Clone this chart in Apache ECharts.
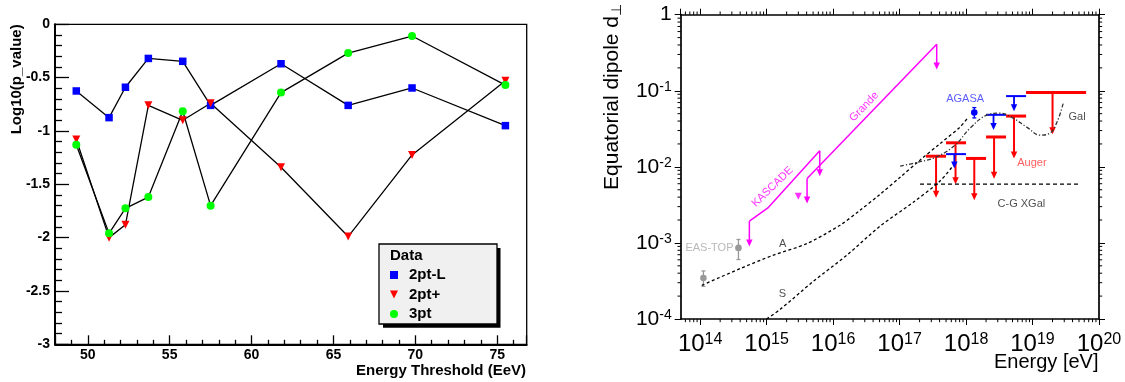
<!DOCTYPE html>
<html><head><meta charset="utf-8">
<script src="https://cdn.jsdelivr.net/npm/echarts@6/dist/echarts.min.js"></script>
<style>html,body{margin:0;padding:0;background:#fff}#c{width:1125px;height:382px}</style>
</head><body><div id="c"></div><script>
// ---------- Left panel data ----------
const energyThreshold = [49.3, 51.3, 52.3, 53.7, 55.8, 57.5, 61.8, 65.9, 69.8, 75.5];
const p2ptL    = [-0.625, -0.875, -0.59, -0.32, -0.347, -0.76, -0.37, -0.76, -0.597, -0.95];
const p2ptPlus = [-1.08, -2.0, -1.88, -0.76, -0.9, -0.74, -1.34, -1.99, -1.225, -0.53];
const p3pt     = [-1.13, -1.96, -1.725, -1.62, -0.815, -1.70, -0.64, -0.27, -0.11, -0.57];
const legendNames = ['2pt-L', '2pt+', '3pt'];

// ---------- Right panel data ----------
const easTopE  = [1.12e14, 3.77e14];
const easTopD  = [3.46e-4, 8.6e-4];
const easTopLo = [2.69e-4, 6.05e-4];
const easTopHi = [4.28e-4, 1.11e-3];

const kascadeE = [5.5e14, 1.06e15, 6.3e15];
const kascadeD = [1.93e-3, 2.92e-3, 0.01625];
const kascadeLimE   = [5.5e14, 6.3e15];
const kascadeLimTop = [1.93e-3, 0.01625];
const kascadeLimTip = [9.0e-4, 7.55e-3];
const kascadeExtraE = [3.0e15];
const kascadeExtraD = [4.1e-3];

const grandeE = [4.06e15, 3.62e17];
const grandeD = [7.04e-3, 0.408];
const grandeLimE   = [4.06e15, 3.62e17];
const grandeLimTop = [7.04e-3, 0.408];
const grandeLimTip = [3.3e-3, 0.191];

const augerLo  = [2.5e17, 5e17, 1e18, 2e18, 4e18, 8e18];
const augerHi  = [5e17, 1e18, 2e18, 4e18, 8e18, 6.4e19];
const augerE   = [3.54e17, 6.95e17, 1.33e18, 2.64e18, 5.27e18, 2.0e19];
const augerUL  = [0.0138, 0.0207, 0.0129, 0.0247, 0.0465, 0.0947];
const augerTip = [3.93e-3, 5.9e-3, 3.65e-3, 7.0e-3, 0.0129, 0.0269];

const agasaLo  = [5e17, 2e18, 4e18];
const agasaHi  = [1e18, 4e18, 8e18];
const agasaE   = [6.67e17, 2.59e18, 5.27e18];
const agasaUL  = [0.0147, 0.0483, 0.0851];
const agasaTip = [9.5e-3, 0.0304, 0.054];
const agasaPtE  = [1.33e18];
const agasaPtD  = [0.0517];
const agasaPtLo = [0.044];
const agasaPtHi = [0.0601];

const modelAE = [1.06e14, 4.0e14, 1.26e15, 4.03e15, 1.27e16, 2.55e16, 5.09e16, 1.02e17, 2.03e17, 4.06e17, 8.1e17, 1.04e18];
const modelAD = [2.77e-4, 4.6e-4, 6.9e-4, 9.8e-4, 1.71e-3, 2.69e-3, 4.36e-3, 7.3e-3, 0.01225, 0.0202, 0.0333, 0.043];
const modelSE = [1.0e15, 1.6e15, 5.06e15, 1.61e16, 5.09e16, 1.61e17, 4.06e17, 6.44e17];
const modelSD = [1.0e-4, 1.34e-4, 3.13e-4, 6.9e-4, 1.66e-3, 3.43e-3, 6.5e-3, 0.0105];
const galE = [1.02e17, 1.9e17, 3.54e17, 6.84e17, 1.15e18, 2.05e18, 3.24e18, 5.09e18, 8.18e18, 1.3e19, 1.83e19, 2.34e19, 2.9e19];
const galD = [0.0102, 0.01153, 0.01343, 0.0193, 0.0323, 0.0479, 0.0509, 0.0437, 0.0333, 0.0261, 0.0278, 0.0388, 0.0689];
const cgXGalE = [2.03e17, 5.2e19];
const cgXGalD = [5.92e-3, 5.92e-3];

const annotText = ['EAS-TOP', 'KASCADE', 'Grande', 'A', 'S', 'AGASA', 'Auger', 'Gal', 'C-G XGal'];
const annotE = [1.38e14, 1.23e15, 2.93e16, 1.75e15, 1.73e15, 9.7e17, 9.8e18, 4.67e19, 6.8e18];
const annotD = [8.6e-4, 5.46e-3, 0.0616, 9.8e-4, 2.11e-4, 0.0778, 0.0111, 0.0455, 3.3e-3];

// ---------- styling ----------
const FONT = '"Liberation Sans", Arial, Helvetica, sans-serif';
const MAG = '#ff00ff', RED = '#ff0000', BLUE = '#0000ff', GRAY = '#999999';
const annotStyle = [
  {color: '#a6a6a6', rotate: 0}, {color: MAG, rotate: 44}, {color: MAG, rotate: 46},
  {color: '#222', rotate: 0}, {color: '#222', rotate: 0}, {color: '#3333ff', rotate: 0},
  {color: '#ff3333', rotate: 0}, {color: '#222', rotate: 0}, {color: '#222', rotate: 0}
];

const zip = (a, b) => a.map((v, i) => [v, b[i]]);

function limitRenderer(color, barW, lineW) {
  return function (params, api) {
    const ec = api.value(0), ul = api.value(1), tip = api.value(2);
    const lo = api.value(3), hi = api.value(4);
    const top = api.coord([ec, ul]);
    const t = api.coord([ec, tip]);
    const hh = 7, hw = 3.2;
    const ch = [];
    if (isFinite(lo) && isFinite(hi) && lo > 0 && hi > 0) {
      const a = api.coord([lo, ul]), b = api.coord([hi, ul]);
      ch.push({type: 'line', shape: {x1: a[0], y1: a[1], x2: b[0], y2: b[1]}, style: {stroke: color, lineWidth: barW}});
    }
    ch.push({type: 'line', shape: {x1: top[0], y1: top[1], x2: t[0], y2: t[1] - hh + 1}, style: {stroke: color, lineWidth: lineW}});
    ch.push({type: 'polygon', shape: {points: [[t[0] - hw, t[1] - hh], [t[0] + hw, t[1] - hh], [t[0], t[1]]]}, style: {fill: color}});
    return {type: 'group', children: ch};
  };
}
function pointRenderer(color, r) {
  return function (params, api) {
    const p = api.coord([api.value(0), api.value(1)]);
    const lo = api.coord([api.value(0), api.value(2)]);
    const hi = api.coord([api.value(0), api.value(3)]);
    const st = {stroke: color, lineWidth: 1.3};
    return {type: 'group', children: [
      {type: 'line', shape: {x1: p[0], y1: lo[1], x2: p[0], y2: hi[1]}, style: st},
      {type: 'line', shape: {x1: p[0] - 2, y1: lo[1], x2: p[0] + 2, y2: lo[1]}, style: st},
      {type: 'line', shape: {x1: p[0] - 2, y1: hi[1], x2: p[0] + 2, y2: hi[1]}, style: st},
      {type: 'circle', shape: {cx: p[0], cy: p[1], r: r}, style: {fill: color}}
    ]};
  };
}
// minor tick positions of the log axes (decade sub-divisions 2..9)
const minorTickData = [];
for (let n = 13; n <= 19; n++) for (let k = 2; k <= 9; k++) {
  const v = k * Math.pow(10, n);
  if (v > 5.1e13 && v < 1e20) minorTickData.push([v, 1e-2, 0]);
}
for (let n = -4; n <= -1; n++) for (let k = 2; k <= 9; k++) {
  minorTickData.push([1e15, k * Math.pow(10, n), 1]);
}
function minorTickRenderer(params, api) {
  const cs = params.coordSys;
  const kind = api.value(2);
  const p = api.coord([api.value(0), api.value(1)]);
  const L = 3.2, st = {stroke: '#000', lineWidth: 1};
  if (kind === 0) {
    return {type: 'group', children: [
      {type: 'line', shape: {x1: p[0], y1: cs.y + cs.height, x2: p[0], y2: cs.y + cs.height + L}, style: st},
      {type: 'line', shape: {x1: p[0], y1: cs.y, x2: p[0], y2: cs.y - L}, style: st}
    ]};
  }
  return {type: 'group', children: [
    {type: 'line', shape: {x1: cs.x, y1: p[1], x2: cs.x - L, y2: p[1]}, style: st},
    {type: 'line', shape: {x1: cs.x + cs.width, y1: p[1], x2: cs.x + cs.width + L, y2: p[1]}, style: st}
  ]};
}
function powLabel(v) {
  const e = Math.round(Math.log10(v));
  if (e === 0) return '{m|1}';
  return '{m|10}{e|' + e + '}';
}

const boldTick = {color: '#000', fontFamily: FONT, fontWeight: 'bold', fontSize: 14};
const logAxisCommon = {
  type: 'log', logBase: 10, gridIndex: 1,
  axisLine: {show: true, onZero: false, lineStyle: {color: '#000', width: 1.7}},
  axisTick: {show: true, inside: false, length: 6, lineStyle: {color: '#000', width: 1}},
  splitLine: {show: false}, minorTick: {show: false}, minorSplitLine: {show: false}
};

const option = {
  animation: false,
  backgroundColor: '#fff',
  grid: [
    {left: 55, right: 598.3, top: 24.3, bottom: 37.7, show: true, borderColor: '#000', borderWidth: 1.3, backgroundColor: 'transparent', containLabel: false, outerBoundsMode: 'none'},
    {left: 680.7, right: 26, top: 14.7, bottom: 63, show: false, containLabel: false, outerBoundsMode: 'none'}
  ],
  xAxis: [
    {type: 'value', gridIndex: 0, min: 48, max: 76.8,
     axisLine: {show: true, onZero: false, lineStyle: {color: '#000', width: 2}},
     axisTick: {show: true, inside: true, length: 9, lineStyle: {color: '#000', width: 1.3}},
     minorTick: {show: true, splitNumber: 5, length: 4.5, lineStyle: {color: '#000', width: 1.3}},
     splitLine: {show: false},
     axisLabel: Object.assign({margin: 4, showMinLabel: false, showMaxLabel: false}, boldTick)},
    Object.assign({}, logAxisCommon, {min: 5.1e13, max: 1e20, position: 'bottom',
     axisLabel: {margin: 13, showMinLabel: false, formatter: powLabel,
       rich: {m: {fontSize: 24, fontFamily: FONT, color: '#000'}, e: {fontSize: 16, fontFamily: FONT, color: '#000', verticalAlign: 'top'}}}}),
    Object.assign({}, logAxisCommon, {min: 5.1e13, max: 1e20, position: 'top', axisLabel: {show: false}})
  ],
  yAxis: [
    {type: 'value', gridIndex: 0, min: -3, max: 0, interval: 0.5,
     axisLine: {show: true, onZero: false, lineStyle: {color: '#000', width: 2}},
     axisTick: {show: true, inside: true, length: 14, lineStyle: {color: '#000', width: 1.3}},
     minorTick: {show: true, splitNumber: 5, length: 7, lineStyle: {color: '#000', width: 1.3}},
     splitLine: {show: false},
     axisLabel: Object.assign({margin: 5}, boldTick)},
    Object.assign({}, logAxisCommon, {min: 1e-4, max: 1, position: 'left',
     axisLabel: {margin: 9, formatter: powLabel,
       rich: {m: {fontSize: 21, fontFamily: FONT, color: '#000'}, e: {fontSize: 14, fontFamily: FONT, color: '#000', verticalAlign: 'top'}}}}),
    Object.assign({}, logAxisCommon, {min: 1e-4, max: 1, position: 'right', axisLabel: {show: false}})
  ],
  legend: {
    show: true, z: 20, orient: 'vertical', left: 390, top: 267.5,
    itemWidth: 8, itemHeight: 8, itemGap: 4.5, selectedMode: false,
    backgroundColor: 'transparent', padding: 0,
    textStyle: {color: '#000', fontFamily: FONT, fontWeight: 'bold', fontSize: 15, lineHeight: 15, padding: [0, 0, 0, 6]},
    data: [
      {name: legendNames[0], icon: 'rect', itemStyle: {color: BLUE}},
      {name: legendNames[1], icon: 'path://M0,0 L10,0 L5,10 Z', itemStyle: {color: RED}},
      {name: legendNames[2], icon: 'circle', itemStyle: {color: '#00ff00'}}
    ]
  },
  graphic: [
    {type: 'rect', z: 10, shape: {x: 383, y: 248, width: 117.5, height: 79.7}, style: {fill: '#000'}},
    {type: 'rect', z: 11, shape: {x: 379, y: 244, width: 118, height: 80}, style: {fill: '#f0f0f0', stroke: '#000', lineWidth: 1.3}},
    {type: 'text', z: 12, x: 390, y: 255.5, style: {text: 'Data', font: 'bold 15px ' + FONT, fill: '#000', align: 'left', verticalAlign: 'middle'}},
    {type: 'text', z: 12, x: 17, y: 24.3, rotation: Math.PI / 2, style: {text: 'Log10(p_value)', font: 'bold 15px ' + FONT, fill: '#000', align: 'right', verticalAlign: 'middle'}},
    {type: 'text', z: 12, x: 526, y: 370.5, style: {text: 'Energy Threshold (EeV)', font: 'bold 15px ' + FONT, fill: '#000', align: 'right', verticalAlign: 'middle'}},
    {type: 'text', z: 12, x: 1098.5, y: 362, style: {text: 'Energy [eV]', font: '20px ' + FONT, fill: '#000', align: 'right', verticalAlign: 'middle'}},
    {type: 'text', z: 12, x: 612, y: 4, rotation: Math.PI / 2, style: {
      text: '{a|Equatorial dipole d}{b|⊥}', align: 'right', verticalAlign: 'middle',
      rich: {a: {fontSize: 21, fontFamily: FONT, fill: '#000', lineHeight: 24}, b: {fontSize: 14, fontFamily: FONT, fill: '#000', verticalAlign: 'bottom', lineHeight: 14}}}}
  ],
  series: [
    // ---- left panel ----
    {name: legendNames[0], type: 'line', xAxisIndex: 0, yAxisIndex: 0, data: zip(energyThreshold, p2ptL),
     symbol: 'rect', symbolSize: 7.5, itemStyle: {color: BLUE}, lineStyle: {color: '#000', width: 1.3}},
    {name: legendNames[1], type: 'line', xAxisIndex: 0, yAxisIndex: 0, data: zip(energyThreshold, p2ptPlus),
     symbol: 'triangle', symbolRotate: 180, symbolSize: 8, itemStyle: {color: RED}, lineStyle: {color: '#000', width: 1.3}},
    {name: legendNames[2], type: 'line', xAxisIndex: 0, yAxisIndex: 0, data: zip(energyThreshold, p3pt),
     symbol: 'circle', symbolSize: 8, itemStyle: {color: '#00ff00'}, lineStyle: {color: '#000', width: 1.3}},
    // ---- right panel ----
    {type: 'custom', xAxisIndex: 1, yAxisIndex: 1, renderItem: minorTickRenderer, data: minorTickData, silent: true, clip: false, encode: {x: 0, y: 1}},
    {type: 'line', xAxisIndex: 1, yAxisIndex: 1, data: zip(modelAE, modelAD), symbol: 'none', smooth: 0.3,
     lineStyle: {color: '#000', width: 1.3, type: [3, 2.5]}},
    {type: 'line', xAxisIndex: 1, yAxisIndex: 1, data: zip(modelSE, modelSD), symbol: 'none', smooth: 0.3,
     lineStyle: {color: '#000', width: 1.3, type: [3, 2.5]}},
    {type: 'line', xAxisIndex: 1, yAxisIndex: 1, data: zip(galE, galD), symbol: 'none', smooth: 0.4,
     lineStyle: {color: '#333', width: 1.3, type: [4, 2, 1.2, 2]}},
    {type: 'line', xAxisIndex: 1, yAxisIndex: 1, data: zip(cgXGalE, cgXGalD), symbol: 'none',
     lineStyle: {color: '#000', width: 1.3, type: [4, 3]}},
    {type: 'line', xAxisIndex: 1, yAxisIndex: 1, data: zip(kascadeE, kascadeD), symbol: 'none',
     lineStyle: {color: MAG, width: 1.5}},
    {type: 'line', xAxisIndex: 1, yAxisIndex: 1, data: zip(grandeE, grandeD), symbol: 'none',
     lineStyle: {color: MAG, width: 1.5}},
    {type: 'custom', xAxisIndex: 1, yAxisIndex: 1, renderItem: limitRenderer(MAG, 0, 1.5), encode: {x: 0, y: 1},
     data: kascadeLimE.map((e, i) => [e, kascadeLimTop[i], kascadeLimTip[i], 0, 0])},
    {type: 'custom', xAxisIndex: 1, yAxisIndex: 1, renderItem: limitRenderer(MAG, 0, 1.5), encode: {x: 0, y: 1},
     data: grandeLimE.map((e, i) => [e, grandeLimTop[i], grandeLimTip[i], 0, 0])},
    {type: 'scatter', xAxisIndex: 1, yAxisIndex: 1, data: zip(kascadeExtraE, kascadeExtraD),
     symbol: 'triangle', symbolRotate: 180, symbolSize: [7, 7], itemStyle: {color: MAG}},
    {type: 'custom', xAxisIndex: 1, yAxisIndex: 1, renderItem: limitRenderer(RED, 3, 2), encode: {x: 0, y: 1},
     data: augerE.map((e, i) => [e, augerUL[i], augerTip[i], augerLo[i], augerHi[i]])},
    {type: 'custom', xAxisIndex: 1, yAxisIndex: 1, renderItem: limitRenderer(BLUE, 2, 1.8), encode: {x: 0, y: 1},
     data: agasaE.map((e, i) => [e, agasaUL[i], agasaTip[i], agasaLo[i], agasaHi[i]])},
    {type: 'custom', xAxisIndex: 1, yAxisIndex: 1, renderItem: pointRenderer(GRAY, 3.3), encode: {x: 0, y: 1},
     data: easTopE.map((e, i) => [e, easTopD[i], easTopLo[i], easTopHi[i]])},
    {type: 'custom', xAxisIndex: 1, yAxisIndex: 1, renderItem: pointRenderer(BLUE, 3.3), encode: {x: 0, y: 1},
     data: agasaPtE.map((e, i) => [e, agasaPtD[i], agasaPtLo[i], agasaPtHi[i]])},
    {type: 'scatter', xAxisIndex: 1, yAxisIndex: 1, symbolSize: 0, silent: true, z: 5,
     data: annotText.map((t, i) => ({value: [annotE[i], annotD[i]],
       label: {show: true, position: 'inside', formatter: t, color: annotStyle[i].color, rotate: annotStyle[i].rotate,
               fontFamily: FONT, fontSize: 11, align: 'center', verticalAlign: 'middle'}}))}
  ]
};
const chart = echarts.init(document.getElementById('c'), null, {renderer: 'canvas'});
chart.setOption(option);
</script></body></html>
